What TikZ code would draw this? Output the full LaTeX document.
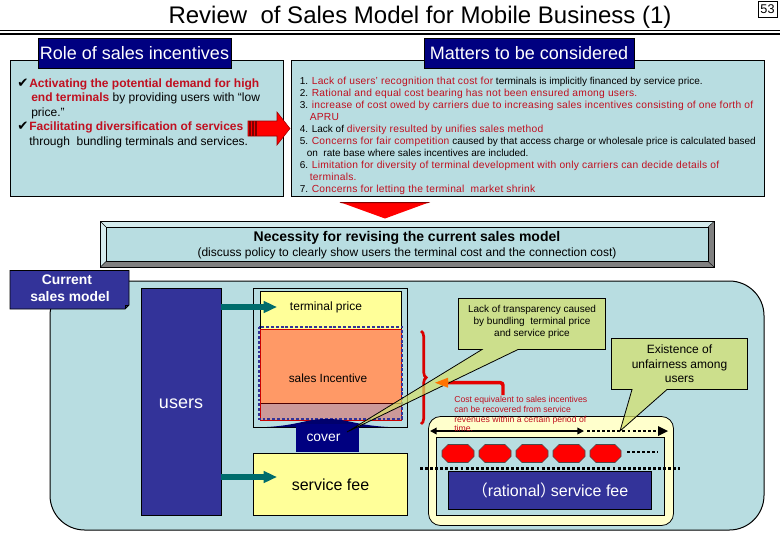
\documentclass[tikz,border=0pt]{standalone}
\usepackage{fontspec}
\setmainfont{Liberation Sans}
\newfontfamily\cjk{Noto Sans CJK JP}
\newfontfamily\dejavu{DejaVu Sans}
\usetikzlibrary{arrows.meta,decorations.pathreplacing}
\definecolor{pale}{HTML}{B8DDE1}
\definecolor{navy}{HTML}{000080}
\definecolor{indig}{HTML}{333399}
\definecolor{cream}{HTML}{FFFF99}
\definecolor{lightcream}{HTML}{FFFFCC}
\definecolor{orangeb}{HTML}{FF9966}
\definecolor{pinkb}{HTML}{CC9999}
\definecolor{calloutc}{HTML}{D5E168}
\definecolor{tealc}{HTML}{006C6C}
\definecolor{redt}{HTML}{C01020}
\tikzset{
  x=0.75pt,y=-0.75pt,
  panel/.style={draw=black,fill=pale,line width=0.75pt},
  header/.style={fill=navy,draw=black,line width=0.3pt,text=white,font=\fontsize{13.5}{16}\selectfont,inner sep=0pt},
  txt/.style={inner sep=0pt,anchor=north west,align=left},
  bluebox/.style={draw=black,fill=indig,line width=0.6pt},
  yellowbox/.style={draw=black,fill=cream,line width=0.6pt},
  calloutb/.style={draw=black,fill=calloutc,fill opacity=0.7,line width=0.6pt},
  octa/.style={draw=black!70,fill=red,line width=0.5pt},
  dots/.style={line width=1.6pt,dash pattern=on 2.2pt off 1.6pt},
  flowarrow/.style={tealc,line width=4pt,-{Triangle[length=10pt,width=8.5pt]}},
}
\newcommand{\rd}[1]{\textcolor{redt}{#1}}
\newcommand{\rs}[1]{\textcolor{redt}{\fontsize{7.7}{9}\selectfont\addfontfeature{LetterSpace=2.5}#1}}
\newcommand{\oct}[3]{\draw[octa] (#1+6,#3) -- (#2-6,#3) -- (#2,#3+6) -- (#2,#3+12) -- (#2-6,#3+18) -- (#1+6,#3+18) -- (#1,#3+12) -- (#1,#3+6) -- cycle;}
\begin{document}
\begin{tikzpicture}
\useasboundingbox (0,0) rectangle (780,540);
\fill[white] (0,0) rectangle (780,540);
% title
\node[inner sep=0pt,anchor=base,font=\fontsize{18}{20}\selectfont] (title) at (420,23) {Review\ \ of Sales Model for Mobile Business (1)};
\coordinate (la) at (0,30.7); \coordinate (lb) at (780,30.7);
\coordinate (lc) at (0,33.7); \coordinate (ld) at (780,33.7);
\draw[line width=0.5pt] (la) -- (lb);
\draw[line width=1.5pt] (lc) -- (ld);
\node[draw=black,line width=0.6pt,fill=white,minimum width=14.2pt,minimum height=12.4pt,inner sep=0pt,font=\fontsize{9.5}{10}\selectfont] (page) at (767.5,9.5) {53};
% left panel
\draw[panel] (10,60) rectangle (283,196);
\node[header,minimum width=144.5pt,minimum height=22.5pt] (role) at (134.5,53) {Role of sales incentives};
\node[txt,font=\fontsize{9}{10.8}\selectfont] (roletext) at (17,78.5) {%
\rlap{\dejavu\fontsize{10}{10}\selectfont ✔}\hspace{9pt}\rd{\textbf{Activating the potential demand for high}}\\
\hspace{10.5pt}\rd{\textbf{end terminals}} by providing users with “low\\
\hspace{10.5pt}price.”\\
\rlap{\dejavu\fontsize{10}{10}\selectfont ✔}\hspace{9pt}\rd{\textbf{Facilitating diversification of services}}\\
\hspace{9pt}through\ \ bundling terminals and services.};
% right panel
\draw[panel] (291.5,60.5) rectangle (764,196);
\node[header,minimum width=157.5pt,minimum height=22.5pt] (matters) at (529,53) {Matters to be considered};
\node[txt,font=\fontsize{7.5}{9}\selectfont] (mattertext) at (299.5,76.5) {%
1. \rs{Lack of users' recognition that cost for} terminals is implicitly financed by service price.\\
2. \rs{Rational and equal cost bearing has not been ensured among users.}\\
3. \rs{increase of cost owed by carriers due to increasing sales incentives consisting of one forth of}\\
\hspace{7.5pt}\rs{APRU}\\
4. Lack of \rs{diversity resulted by unifies sales method}\\
5. \rs{Concerns for fair competition} caused by that access charge or wholesale price is calculated based\\
\hspace{5.25pt}on\ \ rate base where sales incentives are included.\\
6. \rs{Limitation for diversity of terminal development with only carriers can decide details of}\\
\hspace{7.5pt}\rs{terminals.}\\
7. \rs{Concerns for letting the terminal\ \ market shrink}};
% red arrows
\fill[red,draw=red!60!black,line width=0.4pt] (248,121) -- (277,121) -- (277,112) -- (290,128.5) -- (277,145) -- (277,136) -- (248,136) -- cycle;
\draw[red!50!black,line width=0.8pt] (250,121) -- (250,136) (253,121) -- (253,136) (256,121) -- (256,136);
\fill[red] (339.5,202) -- (430,202) -- (385,218.5) -- cycle;
\fill[red!50!black] (339.5,202) -- (430,202) -- (428,203) -- (341,203) -- cycle;
% necessity bevel
\fill[pale] (100.5,221.5) rectangle (714,267);
\fill[black!50] (100.5,267) -- (714,267) -- (714,221.5) -- (708,227) -- (708,261.5) -- (106,261.5) -- cycle;
\fill[pale!60!white] (100.5,221.5) -- (714,221.5) -- (708,227) -- (106,227) -- (106,261.5) -- (100.5,267) -- cycle;
\draw[black,line width=0.5pt] (100.5,221.5) rectangle (714,267);
\draw[black,line width=0.5pt] (106,227) rectangle (708,261.5);
\draw[black,line width=0.3pt] (100.5,221.5) -- (106,227) (714,221.5) -- (708,227) (100.5,267) -- (106,261.5) (714,267) -- (708,261.5);
\node[inner sep=0pt,font=\bfseries\fontsize{10.5}{12}\selectfont] (nec) at (407,238) {Necessity for revising the current sales model};
\node[inner sep=0pt,font=\fontsize{9}{11}\selectfont] (disc) at (407,253.5) {(discuss policy to clearly show users the terminal cost and the connection cost)};
% big panel
\draw[panel,rounded corners=26pt] (50,281) rectangle (764,530);
% tab
\draw[bluebox] (10,270.5) -- (129,270.5) -- (129,305) -- (125,309) -- (10,309) -- cycle;
\draw[black,line width=0.4pt] (125,309) -- (125,305) -- (129,305);
\node[inner sep=0pt,align=center,text=white,font=\bfseries\fontsize{10.4}{12.8}\selectfont] (cur) at (70,288) {Current\kern4.5pt\\sales model};
% users
\node[bluebox,text=white,minimum width=60pt,minimum height=170.2pt,inner sep=0pt,font=\fontsize{13.5}{15}\selectfont] (users) at (181,401.5) {\raisebox{-5.6pt}[5pt][5pt]{users}};
% terminal group
\draw[black,line width=0.6pt,fill=pale] (253.5,288.5) rectangle (407.5,427);
\fill[cream] (260.5,291.5) rectangle (401.5,330);
\draw[black,line width=0.5pt] (260.5,291.5) rectangle (401.5,330);
\fill[orangeb] (260.5,329) rectangle (401.5,403);
\fill[pinkb] (260.5,403) rectangle (401.5,420.5);
\draw[black!70!red,line width=0.5pt] (260.5,403) -- (401.5,403);
\draw[red!80!black,line width=0.5pt] (260.5,329) rectangle (401.5,420.5);
\draw[indig,line width=1.5pt,dash pattern=on 2.2pt off 1.4pt] (259,326.5) rectangle (402,419);
\node[inner sep=0pt,font=\fontsize{9}{10}\selectfont] (tprice) at (326,307) {terminal price};
\node[inner sep=0pt,font=\fontsize{8.9}{10}\selectfont] (sinc) at (328,378) {sales Incentive};
% cover
\fill[navy!85!black] (267,427) .. controls (300,425) and (305,419) .. (327,419) .. controls (349,419) and (354,425) .. (388,427) -- cycle;
\fill[navy] (296,424) rectangle (358.5,452);
\node[inner sep=0pt,text=white,font=\fontsize{10.4}{11}\selectfont] (cover) at (323.5,437.5) {cover};
% service fee
\node[yellowbox,minimum width=115.5pt,minimum height=47pt,inner sep=0pt,font=\fontsize{12}{13}\selectfont] (sfee) at (330.5,484.5) {service fee};
% flow arrows
\coordinate (t1) at (277,307); \coordinate (t2) at (277,477);
\draw[flowarrow] (users.east |- t1) -- (t1);
\draw[flowarrow] (users.east |- t2) -- (t2);
% bottom right block
\draw[draw=black,fill=lightcream,line width=0.6pt,rounded corners=9pt] (428.5,416.5) rectangle (673.5,525.5);
\draw[draw=black,fill=pale,line width=0.6pt] (436,437.5) rectangle (664,515.5);
\oct{442}{474}{444.5}
\oct{479}{511}{444.5}
\oct{516}{548}{444.5}
\oct{553}{585}{444.5}
\oct{590}{621}{444.5}
\coordinate (d1) at (627,452); \coordinate (d2) at (658,452);
\draw[dots] (d1) -- (d2);
\coordinate (hl) at (420,468.5); \coordinate (hr) at (680,468.5);
\draw[dots] (hl) -- (hr);
\node[bluebox,text=white,minimum width=152.5pt,minimum height=28.5pt,inner sep=0pt,font=\fontsize{12}{13}\selectfont] (rfee) at (550,490.5) {{\cjk （}rational{\cjk ）}\kern-4pt service fee};
% long arrow
\coordinate (a1) at (430,431); \coordinate (a2) at (584,431);
\coordinate (a3) at (587,431); \coordinate (a4) at (668,431);
\draw[line width=1.1pt,{Triangle[length=5pt,width=5pt]}-{Triangle[length=5pt,width=5pt]}] (a1) -- (a2);
\draw[dots] (a3) -- (a4);
\fill[black] (658,426) -- (668,431) -- (658,436) -- cycle;
% brace and elbow
\coordinate (b1) at (421,331); \coordinate (b2) at (421,424);
\draw[red!85!black,line width=2pt,decorate,decoration={brace,amplitude=4pt}] (b1) -- (b2);
\coordinate (e1) at (503,395); \coordinate (e2) at (447,382.7);
\draw[red!90!black,line width=2.6pt,rounded corners=2pt] (e1) -- (503,382.7) -- (e2);
% callouts
\draw[calloutb] (458.5,298.5) -- (605.5,298.5) -- (605.5,349.5) -- (518,349.5) -- (347,432) -- (482,349.5) -- (458.5,349.5) -- cycle;
\node[inner sep=0pt,align=center,font=\fontsize{7.5}{9}\selectfont] (lack) at (532,321.5) {Lack of transparency caused\\by bundling\ \ terminal price\\and service price};
\draw[calloutb] (611.5,338.5) -- (747.5,338.5) -- (747.5,389.5) -- (667,389.5) -- (620,431) -- (632,389.5) -- (611.5,389.5) -- cycle;
\node[inner sep=0pt,align=center,font=\fontsize{9}{10.9}\selectfont] (exist) at (679.5,364) {Existence of\\unfairness among\\users};
\fill[orange!90!red] (435,382.7) -- (448,377.7) -- (448,387.7) -- cycle;
\node[txt,text=redt,font=\fontsize{6.5}{7.35}\selectfont] (cost) at (454,396) {Cost equivalent to sales incentives\\can be recovered from service\\revenues within a certain period of\\time.};
\end{tikzpicture}
\end{document}
